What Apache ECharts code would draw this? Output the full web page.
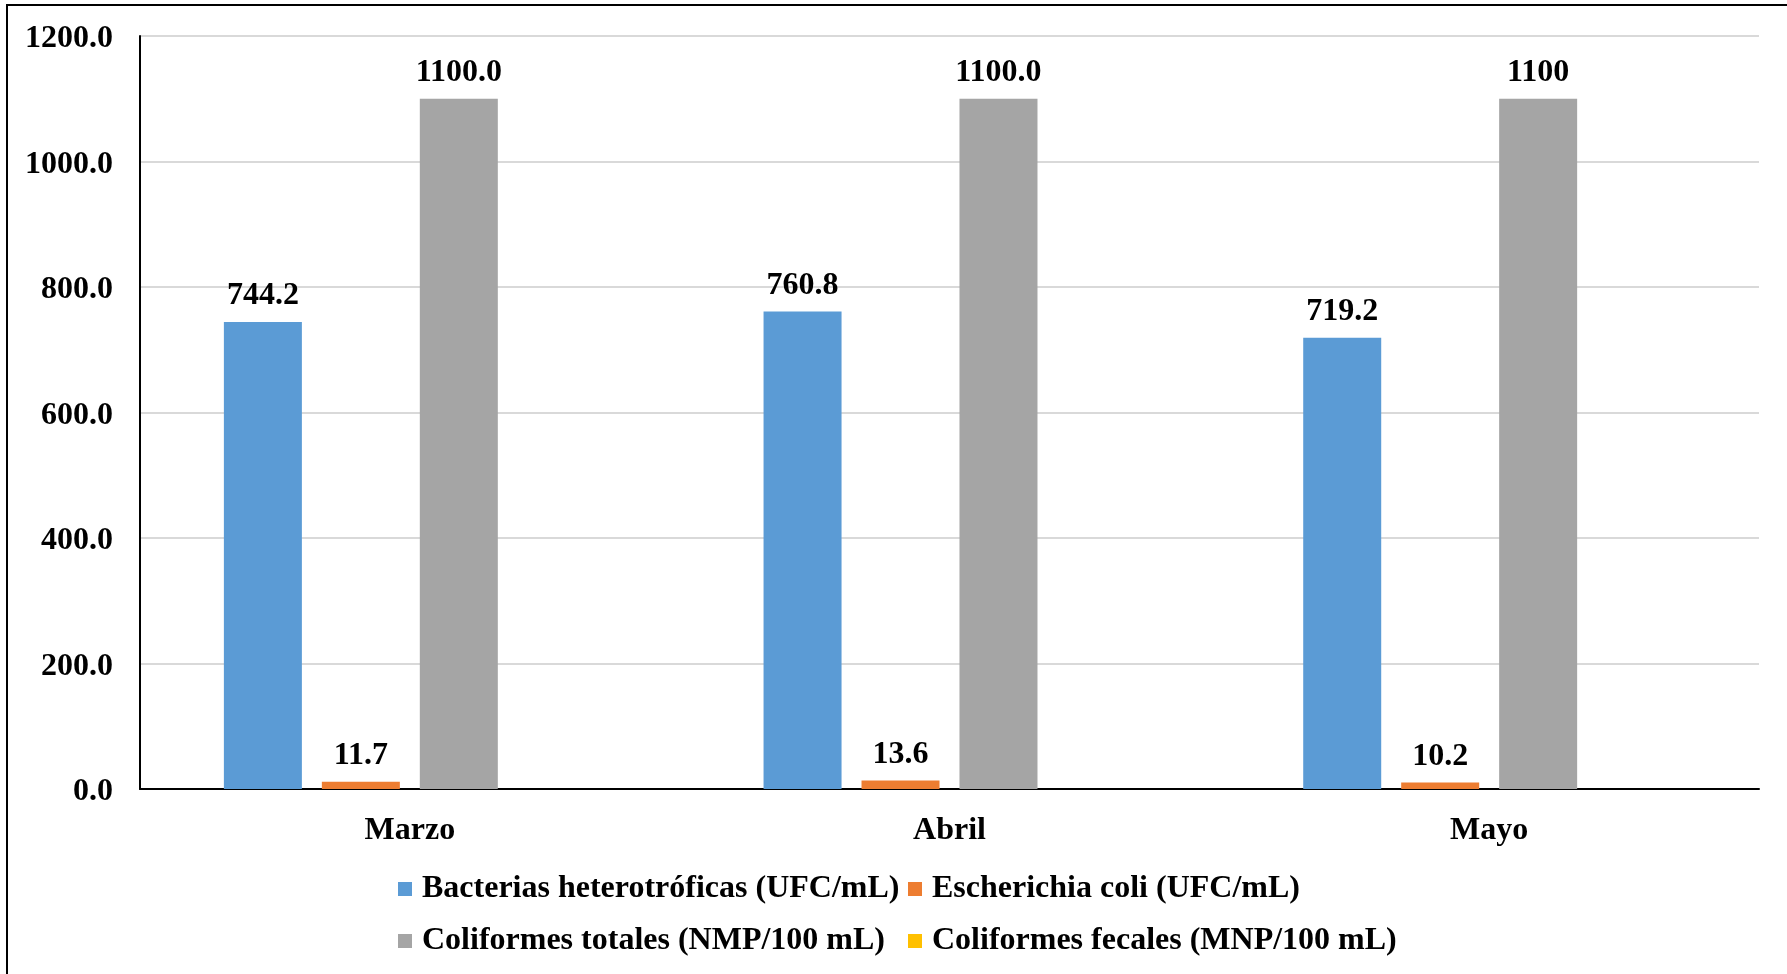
<!DOCTYPE html>
<html>
<head>
<meta charset="utf-8">
<script src="https://cdn.jsdelivr.net/npm/echarts@6/dist/echarts.min.js"></script>
<style>
html,body{margin:0;padding:0;background:#fff;}
#chart{width:1787px;height:974px;}
</style>
</head>
<body>
<div id="chart"></div>
<script>
const categories = ["Marzo", "Abril", "Mayo"];
const seriesNames = [
  "Bacterias heterotróficas (UFC/mL)",
  "Escherichia coli (UFC/mL)",
  "Coliformes totales (NMP/100 mL)",
  "Coliformes fecales (MNP/100 mL)"
];
const bacterias = [744.2, 760.8, 719.2];
const ecoli = [11.7, 13.6, 10.2];
const totales = [1100, 1100, 1100];
const fecales = [null, null, null];
const bacteriasLabels = ["744.2", "760.8", "719.2"];
const ecoliLabels = ["11.7", "13.6", "10.2"];
const totalesLabels = ["1100.0", "1100.0", "1100"];
const yTicks = [0, 200, 400, 600, 800, 1000, 1200];

const FONT = "'Liberation Serif', 'Times New Roman', serif";
const FS = 32;
const colors = ["#5B9BD5", "#ED7D31", "#A5A5A5", "#FFC000"];

function makeSeries(name, data, labels, color) {
  return {
    name: name,
    type: "bar",
    data: data,
    barWidth: 78,
    barGap: "25.6%",
    itemStyle: { color: color },
    label: labels ? {
      show: true,
      position: "top",
      distance: 10,
      fontFamily: FONT,
      fontWeight: "bold",
      fontSize: FS,
      color: "#000",
      formatter: p => labels[p.dataIndex]
    } : { show: false }
  };
}

const legendText = {
  fontFamily: FONT, fontWeight: "bold", fontSize: FS, color: "#000",
  lineHeight: 32, padding: [0, 0, 0, 5]
};

const chart = echarts.init(document.getElementById("chart"), null, { renderer: "canvas" });
chart.setOption({
  animation: false,
  backgroundColor: "#fff",
  color: colors,
  grid: { left: 140, right: 28, top: 36, bottom: 185, containLabel: false },
  legend: [
    {
      data: [seriesNames[0], seriesNames[2]],
      orient: "vertical", left: 398, top: 873, padding: 0,
      itemWidth: 14, itemHeight: 14, itemGap: 20,
      textStyle: legendText, icon: "rect", selectedMode: false
    },
    {
      data: [seriesNames[1], seriesNames[3]],
      orient: "vertical", left: 908, top: 873, padding: 0,
      itemWidth: 14, itemHeight: 14, itemGap: 20,
      textStyle: legendText, icon: "rect", selectedMode: false
    }
  ],
  xAxis: {
    type: "category",
    data: categories,
    axisLine: { lineStyle: { color: "#000", width: 2 } },
    axisTick: { show: false },
    axisLabel: { fontFamily: FONT, fontWeight: "bold", fontSize: FS, color: "#000", margin: 26 }
  },
  yAxis: {
    type: "value",
    min: yTicks[0],
    max: yTicks[yTicks.length - 1],
    interval: yTicks[1] - yTicks[0],
    axisLine: { show: true, lineStyle: { color: "#000", width: 2 } },
    axisTick: { show: false },
    splitLine: { lineStyle: { color: "#D9D9D9", width: 2 } },
    axisLabel: {
      fontFamily: FONT, fontWeight: "bold", fontSize: FS, color: "#000", margin: 27,
      lineHeight: 32, verticalAlign: "top", padding: [-13, 0, 0, 0],
      formatter: v => v.toFixed(1)
    }
  },
  series: [
    makeSeries(seriesNames[0], bacterias, bacteriasLabels, colors[0]),
    makeSeries(seriesNames[1], ecoli, ecoliLabels, colors[1]),
    makeSeries(seriesNames[2], totales, totalesLabels, colors[2]),
    makeSeries(seriesNames[3], fecales, null, colors[3])
  ],
  graphic: [{
    type: "rect",
    shape: { x: 7, y: 5, width: 1800, height: 1000 },
    style: { fill: "none", stroke: "#000", lineWidth: 2 },
    silent: true, z: 100
  }]
});
</script>
</body>
</html>
